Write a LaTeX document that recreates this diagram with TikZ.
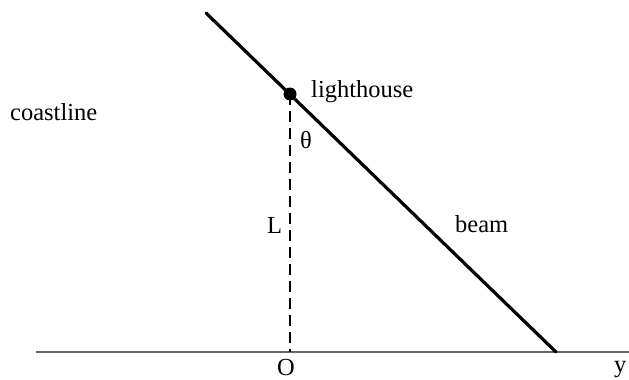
\documentclass[tikz,border=0pt]{standalone}
\usepackage{fontspec}
\setmainfont{Liberation Serif}
\begin{document}
\begin{tikzpicture}[x=1pt,y=-1pt,
  lbl/.style={inner sep=0pt,anchor=base west,font=\fontsize{24.5}{29}\selectfont},
  beamline/.style={line width=3.2pt,line cap=round},
  axis/.style={line width=1.8pt,draw=black!60}]
\useasboundingbox (0,0) rectangle (629,380);
\coordinate (top) at (206,13);
\coordinate (foot) at (556,352);
\coordinate (lh) at (290,94);
\coordinate (O) at (290,352);
\coordinate (axL) at (36,352);
\coordinate (axR) at (629,352);
\draw[axis] (axL) -- (axR);
\draw[line width=1.3pt,dash pattern=on 11pt off 6pt] (lh) -- (O);
\draw[beamline] (top) -- (foot);
\fill (lh) circle (6.5pt);
\node[lbl] (lhl) at (311,97) {lighthouse};
\node[lbl] (coast) at (10,120) {coastline};
\node[lbl] (th) at (300,148) {θ};
\node[lbl] (L) at (267,233) {L};
\node[lbl] (beam) at (455,232) {beam};
\node[lbl] (Ol) at (277,375) {O};
\node[lbl] (yl) at (614,372) {y};
\end{tikzpicture}
\end{document}
